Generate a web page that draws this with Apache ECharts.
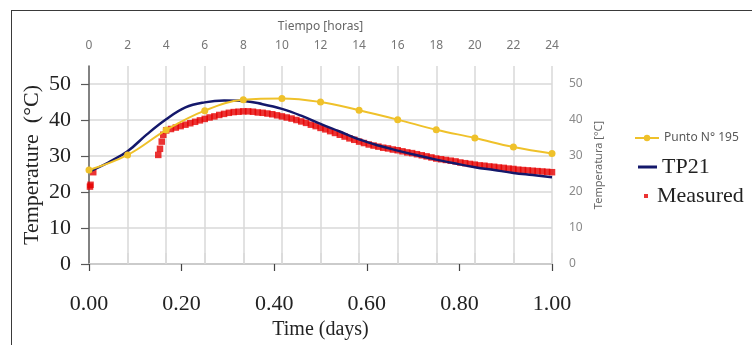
<!DOCTYPE html>
<html>
<head>
<meta charset="utf-8">
<script src="https://cdn.jsdelivr.net/npm/echarts@6/dist/echarts.min.js"></script>
<style>
  html, body { margin: 0; padding: 0; background: #fff; }
  #frame {
    position: absolute; left: 11px; top: 10px; width: 745px; height: 340px;
    border-left: 1.5px solid #3a3a3a; border-top: 1.5px solid #3a3a3a; box-sizing: border-box;
  }
  #chart { position: absolute; left: 0; top: 0; width: 752px; height: 345px; }
</style>
</head>
<body>
<div id="frame"></div>
<div id="chart"></div>
<script>
// time axis ticks
const hourTicks = [0, 2, 4, 6, 8, 10, 12, 14, 16, 18, 20, 22, 24];
const tempTicks = [0, 10, 20, 30, 40, 50];

// Punto N° 195 (every 2 h)
const puntoHours = [0, 2, 4, 6, 8, 10, 12, 14, 16, 18, 20, 22, 24];
const puntoTemp = [26.1, 30.3, 37.2, 42.6, 45.6, 46.0, 45.0, 42.7, 40.1, 37.3, 35.0, 32.5, 30.7];

// TP21 (every hour)
const tp21Hours = [0, 1, 2, 3, 4, 5, 6, 7, 8, 9, 10, 11, 12, 13, 14, 15, 16, 17, 18, 19, 20, 21, 22, 23, 24];
const tp21Temp = [25.6, 28.2, 31.3, 36.0, 40.2, 43.5, 44.9, 45.4, 45.3, 44.4, 43.1, 41.2, 38.9,
  36.8, 34.6, 32.9, 31.5, 30.2, 29.0, 27.9, 26.9, 26.1, 25.3, 24.7, 24.1];

// Measured: first loose readings
const measEarlyHours = [0.05, 0.08, 0.22, 3.59, 3.68, 3.77, 3.85];
const measEarlyTemp = [21.5, 22.0, 25.5, 30.3, 32.0, 34.0, 35.9];
// Measured: logged every 15 min from 4 h to 24 h
const measStart = 4;
const measStep = 0.25;
const measTemp = [
  37.1, 37.5, 37.9, 38.3, 38.7, 39.1, 39.5, 39.9,
  40.3, 40.7, 41.0, 41.4, 41.7, 42.0, 42.2, 42.3,
  42.4, 42.4, 42.3, 42.1, 42.0, 41.8, 41.6, 41.3,
  41.0, 40.7, 40.4, 40.0, 39.6, 39.2, 38.7, 38.3,
  37.8, 37.4, 36.9, 36.4, 35.9, 35.4, 34.9, 34.5,
  34.0, 33.6, 33.2, 32.9, 32.6, 32.3, 32.1, 31.8,
  31.6, 31.3, 31.0, 30.8, 30.5, 30.2, 29.9, 29.6,
  29.3, 29.1, 28.9, 28.7, 28.5, 28.2, 28.0, 27.8,
  27.6, 27.4, 27.3, 27.1, 27.0, 26.8, 26.7, 26.5,
  26.4, 26.2, 26.1, 26.0, 25.9, 25.8, 25.7, 25.6,
  25.5
];

const serif = "'Liberation Serif', 'Times New Roman', serif";
const sans = "'Noto Sans', 'Open Sans', sans-serif";

const pair = (xs, ys) => xs.map((x, i) => [x, ys[i]]);
const measuredData = pair(measEarlyHours, measEarlyTemp)
  .concat(measTemp.map((v, i) => [measStart + i * measStep, v]));

const chart = echarts.init(document.getElementById("chart"));

const option = {
  animation: false,
  grid: { left: 89, right: 200, top: 66, bottom: 79.5, containLabel: false },
  legend: [
    {
      data: ["Punto N° 195"], left: 629, top: 127, itemWidth: 24, itemHeight: 8,
      textStyle: { fontFamily: sans, fontSize: 12, color: "#595959" },
    },
    {
      data: [{ name: "TP21", icon: "rect" }], left: 633, top: 151, itemWidth: 19, itemHeight: 3,
      textStyle: { fontFamily: serif, fontSize: 22, color: "#222" },
    },
    {
      data: [{ name: "Measured", icon: "rect" }], left: 639, top: 180, itemWidth: 4, itemHeight: 4,
      textStyle: { fontFamily: serif, fontSize: 22, color: "#222", padding: [0, 0, 0, 4] },
    },
  ],
  xAxis: [
    {
      type: "value", position: "top", min: 0, max: 24, interval: 2,
      name: "Tiempo [horas]", nameLocation: "middle", nameGap: 33,
      nameTextStyle: { fontFamily: sans, fontSize: 12, color: "#666" },
      axisLine: { show: true, lineStyle: { color: "#8c8c8c", width: 1.5 } },
      axisTick: { show: true, length: 11, customValues: hourTicks.slice(1), lineStyle: { color: "#d9d9d9", width: 1.5 } },
      axisLabel: { margin: 14, fontFamily: sans, fontSize: 12, color: "#767676" },
      splitLine: { show: true, lineStyle: { color: "#d9d9d9", width: 1.5 } },
    },
    {
      type: "value", position: "bottom", min: 0, max: 1, interval: 0.2,
      name: "Time (days)", nameLocation: "middle", nameGap: 56,
      nameTextStyle: { fontFamily: serif, fontSize: 20, color: "#222" },
      axisLine: { show: true, lineStyle: { color: "#d9d9d9", width: 1.5 } },
      axisTick: { show: true, length: 7, lineStyle: { color: "#444", width: 1.2 } },
      axisLabel: { margin: 29, fontFamily: serif, fontSize: 22, color: "#222", formatter: v => v.toFixed(2) },
      splitLine: { show: false },
    },
  ],
  yAxis: [
    {
      type: "value", position: "left", min: 0, max: 55, interval: 10,
      name: "Temperature  (°C)", nameLocation: "middle", nameGap: 46, nameMoveOverlap: false,
      nameTextStyle: { fontFamily: serif, fontSize: 22, color: "#222" },
      axisLine: { show: true, lineStyle: { color: "#595959", width: 1.5 } },
      axisTick: { show: true, length: 8, customValues: tempTicks, lineStyle: { color: "#595959", width: 1.2 } },
      axisLabel: { margin: 18, fontFamily: serif, fontSize: 22, color: "#222", customValues: tempTicks },
      splitLine: { show: true, lineStyle: { color: "#d9d9d9", width: 1.5 } },
    },
    {
      type: "value", position: "right", min: 0, max: 55, interval: 10,
      name: "Temperatura [°C]", nameLocation: "middle", nameGap: 38,
      nameTextStyle: { fontFamily: sans, fontSize: 11, color: "#666" },
      axisLine: { show: false },
      axisTick: { show: false },
      axisLabel: { margin: 17, fontFamily: sans, fontSize: 12, color: "#8a8a8a", customValues: tempTicks },
      splitLine: { show: false },
    },
  ],
  series: [
    {
      name: "TP21", type: "line", xAxisIndex: 0, yAxisIndex: 0,
      data: pair(tp21Hours, tp21Temp), smooth: 0.4, showSymbol: false, symbol: "none",
      itemStyle: { color: "#14186b" },
      lineStyle: { color: "#14186b", width: 2.5 },
    },
    {
      name: "Measured", type: "scatter", xAxisIndex: 0, yAxisIndex: 0,
      data: measuredData, symbol: "rect", symbolSize: 6.5,
      itemStyle: { color: "#e60000" },
    },
    {
      name: "Punto N° 195", type: "line", xAxisIndex: 0, yAxisIndex: 0,
      data: pair(puntoHours, puntoTemp), smooth: 0.4, symbol: "circle", symbolSize: 7,
      itemStyle: { color: "#efc12a" },
      lineStyle: { color: "#efc12a", width: 2 },
    },
  ],
};

chart.setOption(option);
</script>
</body>
</html>
